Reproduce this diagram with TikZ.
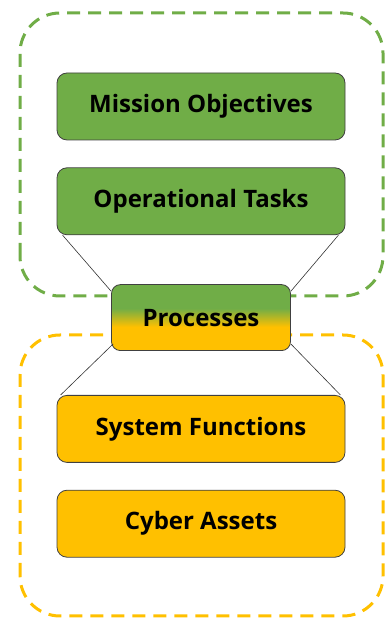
\documentclass[tikz,border=0pt]{standalone}
\usepackage{fontspec}
\setmainfont{Open Sans}
\usetikzlibrary{positioning}

\definecolor{layergreen}{HTML}{70AD47}
\definecolor{layeryellow}{HTML}{FFC000}
\pgfdeclareverticalshading{procshade}{100bp}{color(0bp)=(layeryellow); color(43bp)=(layeryellow); color(57bp)=(layergreen); color(100bp)=(layergreen)}

\begin{document}
\begin{tikzpicture}[x=1pt, y=1pt,
  layer/.style={draw=black!75, line width=0.8pt, rounded corners=10pt,
    minimum width=288pt, minimum height=67pt, inner sep=0pt,
    font=\fontsize{24}{28}\selectfont\bfseries},
  group/.style={dashed, line width=3pt, dash pattern=on 13pt off 8pt, rounded corners=40pt},
  link/.style={draw=black!80, line width=0.6pt}]
\useasboundingbox (0,0) rectangle (385,618);
\draw[group, layergreen] (20,322) rectangle (383,605);
\draw[group, layeryellow] (20,2) rectangle (383,283);

\node[layer, fill=layergreen] (mission) at (201,511.5) {Mission Objectives};
\node[layer, fill=layergreen, below=27pt of mission] (tasks) {Operational Tasks};
\node[layer, shading=procshade, minimum width=179pt, minimum height=66pt,
  rounded corners=9pt, below=49pt of tasks] (proc) {Processes};
\node[layer, fill=layeryellow, below=44pt of proc] (sysfunc) {System Functions};
\node[layer, fill=layeryellow, below=27pt of sysfunc] (assets) {Cyber Assets};

\draw[link] ([xshift=6pt]tasks.south west) -- ([yshift=-7pt]proc.north west);
\draw[link] ([xshift=-7pt]tasks.south east) -- ([yshift=-7pt]proc.north east);
\draw[link] ([xshift=2pt,yshift=7pt]proc.south west) -- ([xshift=4pt]sysfunc.north west);
\draw[link] ([yshift=7pt]proc.south east) -- ([xshift=-5pt]sysfunc.north east);
\end{tikzpicture}
\end{document}
